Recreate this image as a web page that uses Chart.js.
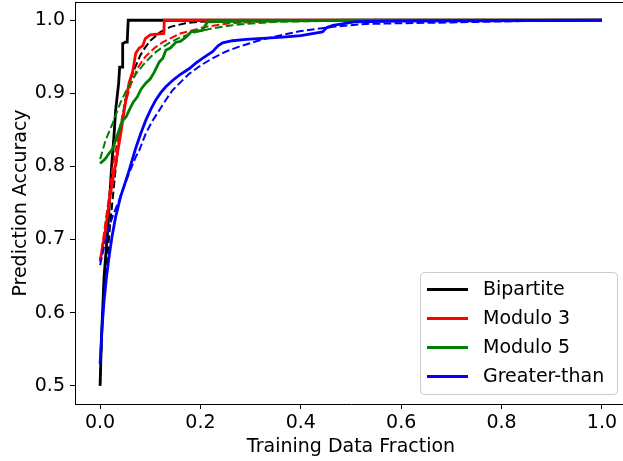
<!DOCTYPE html>
<html>
<head>
<meta charset="utf-8">
<script src="https://cdn.jsdelivr.net/npm/chart.js@4.4.0/dist/chart.umd.min.js"></script>
<style>
  html, body { margin: 0; padding: 0; background: #fff; overflow: hidden; }
  #wrap { width: 640px; height: 461px; }
</style>
</head>
<body>
<div id="wrap"><canvas id="chart" width="640" height="461"></canvas></div>
<script>
const seriesNames = ['Bipartite', 'Modulo 3', 'Modulo 5', 'Greater-than'];
const seriesColors = ['#000000', '#ff0000', '#008000', '#0000ff'];
const xTicks = [0, 0.2, 0.4, 0.6, 0.8, 1.0];
const yTicks = [0.5, 0.6, 0.7, 0.8, 0.9, 1.0];

// Bipartite - measured (solid) and fitted (dashed)
const bipX = [0, 0.003, 0.008, 0.015, 0.019, 0.023, 0.028, 0.031, 0.037, 0.039, 0.045, 0.045, 0.05, 0.054, 0.056, 0.2, 0.5, 1.0];
const bipY = [0.5, 0.57, 0.65, 0.71, 0.755, 0.80, 0.845, 0.877, 0.914, 0.936, 0.936, 0.968, 0.97, 0.97, 1.0, 1.0, 1.0, 1.0];
const bipFitX = [0, 0.005, 0.01, 0.015, 0.02, 0.03, 0.04, 0.05, 0.06, 0.07, 0.08, 0.09, 0.1, 0.12, 0.14, 0.17, 0.2, 0.3, 0.5, 1.0];
const bipFitY = [0.5, 0.6, 0.645, 0.68, 0.72, 0.79, 0.85, 0.89, 0.918, 0.936, 0.952, 0.963, 0.972, 0.984, 0.991, 0.996, 0.998, 1.0, 1.0, 1.0];

// Modulo 3
const mod3X = [0, 0.01, 0.02, 0.03, 0.04, 0.05, 0.058, 0.065, 0.071, 0.078, 0.085, 0.09, 0.1, 0.127, 0.128, 0.3, 0.6, 1.0];
const mod3Y = [0.67, 0.71, 0.76, 0.80, 0.84, 0.885, 0.915, 0.93, 0.955, 0.962, 0.965, 0.975, 0.98, 0.982, 1.0, 1.0, 1.0, 1.0];
const mod3FitX = [0, 0.01, 0.02, 0.025, 0.04, 0.05, 0.06, 0.075, 0.09, 0.11, 0.125, 0.16, 0.21, 0.26, 0.35, 0.5, 1.0];
const mod3FitY = [0.67, 0.72, 0.77, 0.80, 0.855, 0.885, 0.91, 0.935, 0.95, 0.963, 0.97, 0.982, 0.991, 0.996, 0.999, 1.0, 1.0];

// Modulo 5
const mod5X = [0, 0.01, 0.018, 0.025, 0.031, 0.038, 0.045, 0.052, 0.058, 0.066, 0.074, 0.082, 0.091, 0.1, 0.108, 0.118, 0.125, 0.131, 0.14, 0.151, 0.16, 0.171, 0.181, 0.19, 0.204, 0.214, 0.3, 0.5, 1.0];
const mod5Y = [0.804, 0.81, 0.818, 0.824, 0.836, 0.85, 0.863, 0.868, 0.877, 0.888, 0.895, 0.906, 0.914, 0.92, 0.929, 0.943, 0.948, 0.959, 0.962, 0.97, 0.971, 0.977, 0.984, 0.985, 0.986, 0.998, 0.999, 1.0, 1.0];
const mod5FitX = [0, 0.011, 0.025, 0.041, 0.058, 0.075, 0.091, 0.108, 0.124, 0.14, 0.158, 0.19, 0.225, 0.26, 0.291, 0.357, 0.45, 0.6, 1.0];
const mod5FitY = [0.81, 0.836, 0.859, 0.888, 0.912, 0.93, 0.943, 0.955, 0.963, 0.97, 0.976, 0.984, 0.989, 0.993, 0.995, 0.998, 0.999, 1.0, 1.0];

// Greater-than
const gtX = [0, 0.004, 0.008, 0.013, 0.018, 0.024, 0.031, 0.041, 0.051, 0.058, 0.071, 0.081, 0.091, 0.101, 0.111, 0.121, 0.131, 0.145, 0.158, 0.178, 0.19, 0.204, 0.224, 0.235, 0.244, 0.264, 0.291, 0.364, 0.4, 0.443, 0.452, 0.464, 0.51, 0.6, 1.0];
const gtY = [0.53, 0.58, 0.617, 0.65, 0.677, 0.705, 0.731, 0.759, 0.78, 0.795, 0.825, 0.845, 0.863, 0.878, 0.891, 0.901, 0.909, 0.918, 0.925, 0.934, 0.941, 0.948, 0.957, 0.965, 0.969, 0.972, 0.974, 0.977, 0.979, 0.984, 0.99, 0.993, 0.998, 0.999, 1.0];
const gtFitX = [0, 0.008, 0.018, 0.028, 0.038, 0.048, 0.058, 0.071, 0.078, 0.091, 0.104, 0.118, 0.131, 0.144, 0.16, 0.178, 0.2, 0.224, 0.25, 0.277, 0.31, 0.331, 0.364, 0.397, 0.43, 0.464, 0.53, 0.6, 0.7, 0.77, 0.85, 1.0];
const gtFitY = [0.665, 0.69, 0.718, 0.737, 0.754, 0.773, 0.791, 0.813, 0.822, 0.845, 0.862, 0.877, 0.891, 0.904, 0.915, 0.927, 0.938, 0.948, 0.957, 0.964, 0.971, 0.975, 0.98, 0.985, 0.988, 0.991, 0.995, 0.996, 0.997, 0.998, 0.999, 1.0];

const pts = (xs, ys) => xs.map((x, i) => ({ x: x, y: ys[i] }));

const raw = [
  [bipX, bipY, bipFitX, bipFitY],
  [mod3X, mod3Y, mod3FitX, mod3FitY],
  [mod5X, mod5Y, mod5FitX, mod5FitY],
  [gtX, gtY, gtFitX, gtFitY]
];

const datasets = [];
raw.forEach((r, k) => {
  datasets.push({
    label: seriesNames[k], data: pts(r[0], r[1]),
    borderColor: seriesColors[k], borderWidth: 2.8, pointRadius: 0, fill: false
  });
  datasets.push({
    label: seriesNames[k] + ' fit', data: pts(r[2], r[3]),
    borderColor: seriesColors[k], borderWidth: 2, borderDash: [7.7, 3.3], pointRadius: 0, fill: false
  });
});
// later datasets on top, like matplotlib
datasets.forEach((d, i) => { d.order = datasets.length - i; });

// top spine + legend box in the lower right
const frameAndLegend = {
  id: 'frameAndLegend',
  afterDraw(chart) {
    const c = chart.ctx, a = chart.chartArea;
    c.save();
    c.strokeStyle = '#000';
    c.lineWidth = 1;
    c.beginPath();
    c.moveTo(a.left, a.top + 0.5);
    c.lineTo(a.right, a.top + 0.5);
    c.lineTo(a.right, a.bottom);
    c.stroke();

    const w = 197, h = 122;
    const right = a.right - 10, bottom = a.bottom - 10;
    const left = right - w, top = bottom - h;
    c.beginPath();
    c.roundRect(left + 0.5, top + 0.5, w, h, 4);
    c.fillStyle = 'rgba(255,255,255,0.8)';
    c.fill();
    c.strokeStyle = '#cccccc';
    c.stroke();

    c.font = '19px "DejaVu Sans"';
    c.textBaseline = 'middle';
    c.textAlign = 'left';
    seriesNames.forEach((name, i) => {
      const y = top + 17.5 + i * 29;
      c.beginPath();
      c.strokeStyle = seriesColors[i];
      c.lineWidth = 2.8;
      c.moveTo(left + 7, y);
      c.lineTo(left + 48, y);
      c.stroke();
      c.fillStyle = '#000';
      c.fillText(name, left + 63, y + 1);
    });
    c.restore();
  }
};

Chart.defaults.font.family = '"DejaVu Sans", sans-serif';
Chart.defaults.font.size = 19;
Chart.defaults.color = '#000';

const ctx = document.getElementById('chart').getContext('2d');
const chart = new Chart(ctx, {
  type: 'line',
  data: { datasets: datasets },
  plugins: [frameAndLegend],
  options: {
    responsive: false,
    animation: false,
    devicePixelRatio: 1,
    layout: { padding: { top: 2, right: 13, left: 0, bottom: 0 } },
    plugins: { legend: { display: false }, tooltip: { enabled: false } },
    elements: { line: { tension: 0 } },
    scales: {
      x: {
        type: 'linear', min: -0.05, max: 1.05,
        afterBuildTicks: s => { s.ticks = xTicks.map(v => ({ value: v })); },
        afterFit: s => { s.height = 57; s.paddingLeft = 0; s.paddingRight = 0; },
        ticks: { callback: v => v.toFixed(1), padding: 3, maxRotation: 0, autoSkip: false },
        grid: { drawOnChartArea: false, tickLength: 5, tickColor: '#000', color: '#000' },
        border: { color: '#000', width: 1 },
        title: { display: true, text: 'Training Data Fraction', padding: { top: 0, bottom: 3 } }
      },
      y: {
        type: 'linear', min: 0.475, max: 1.025,
        afterBuildTicks: s => { s.ticks = yTicks.map(v => ({ value: v })); },
        afterFit: s => { s.width = 75; s.paddingTop = 0; s.paddingBottom = 0; },
        ticks: { callback: v => v.toFixed(1), padding: 5, autoSkip: false },
        grid: { drawOnChartArea: false, tickLength: 5, tickColor: '#000', color: '#000' },
        border: { color: '#000', width: 1 },
        title: { display: true, text: 'Prediction Accuracy', padding: { top: 10, bottom: 0 } }
      }
    }
  }
});
</script>
</body>
</html>
